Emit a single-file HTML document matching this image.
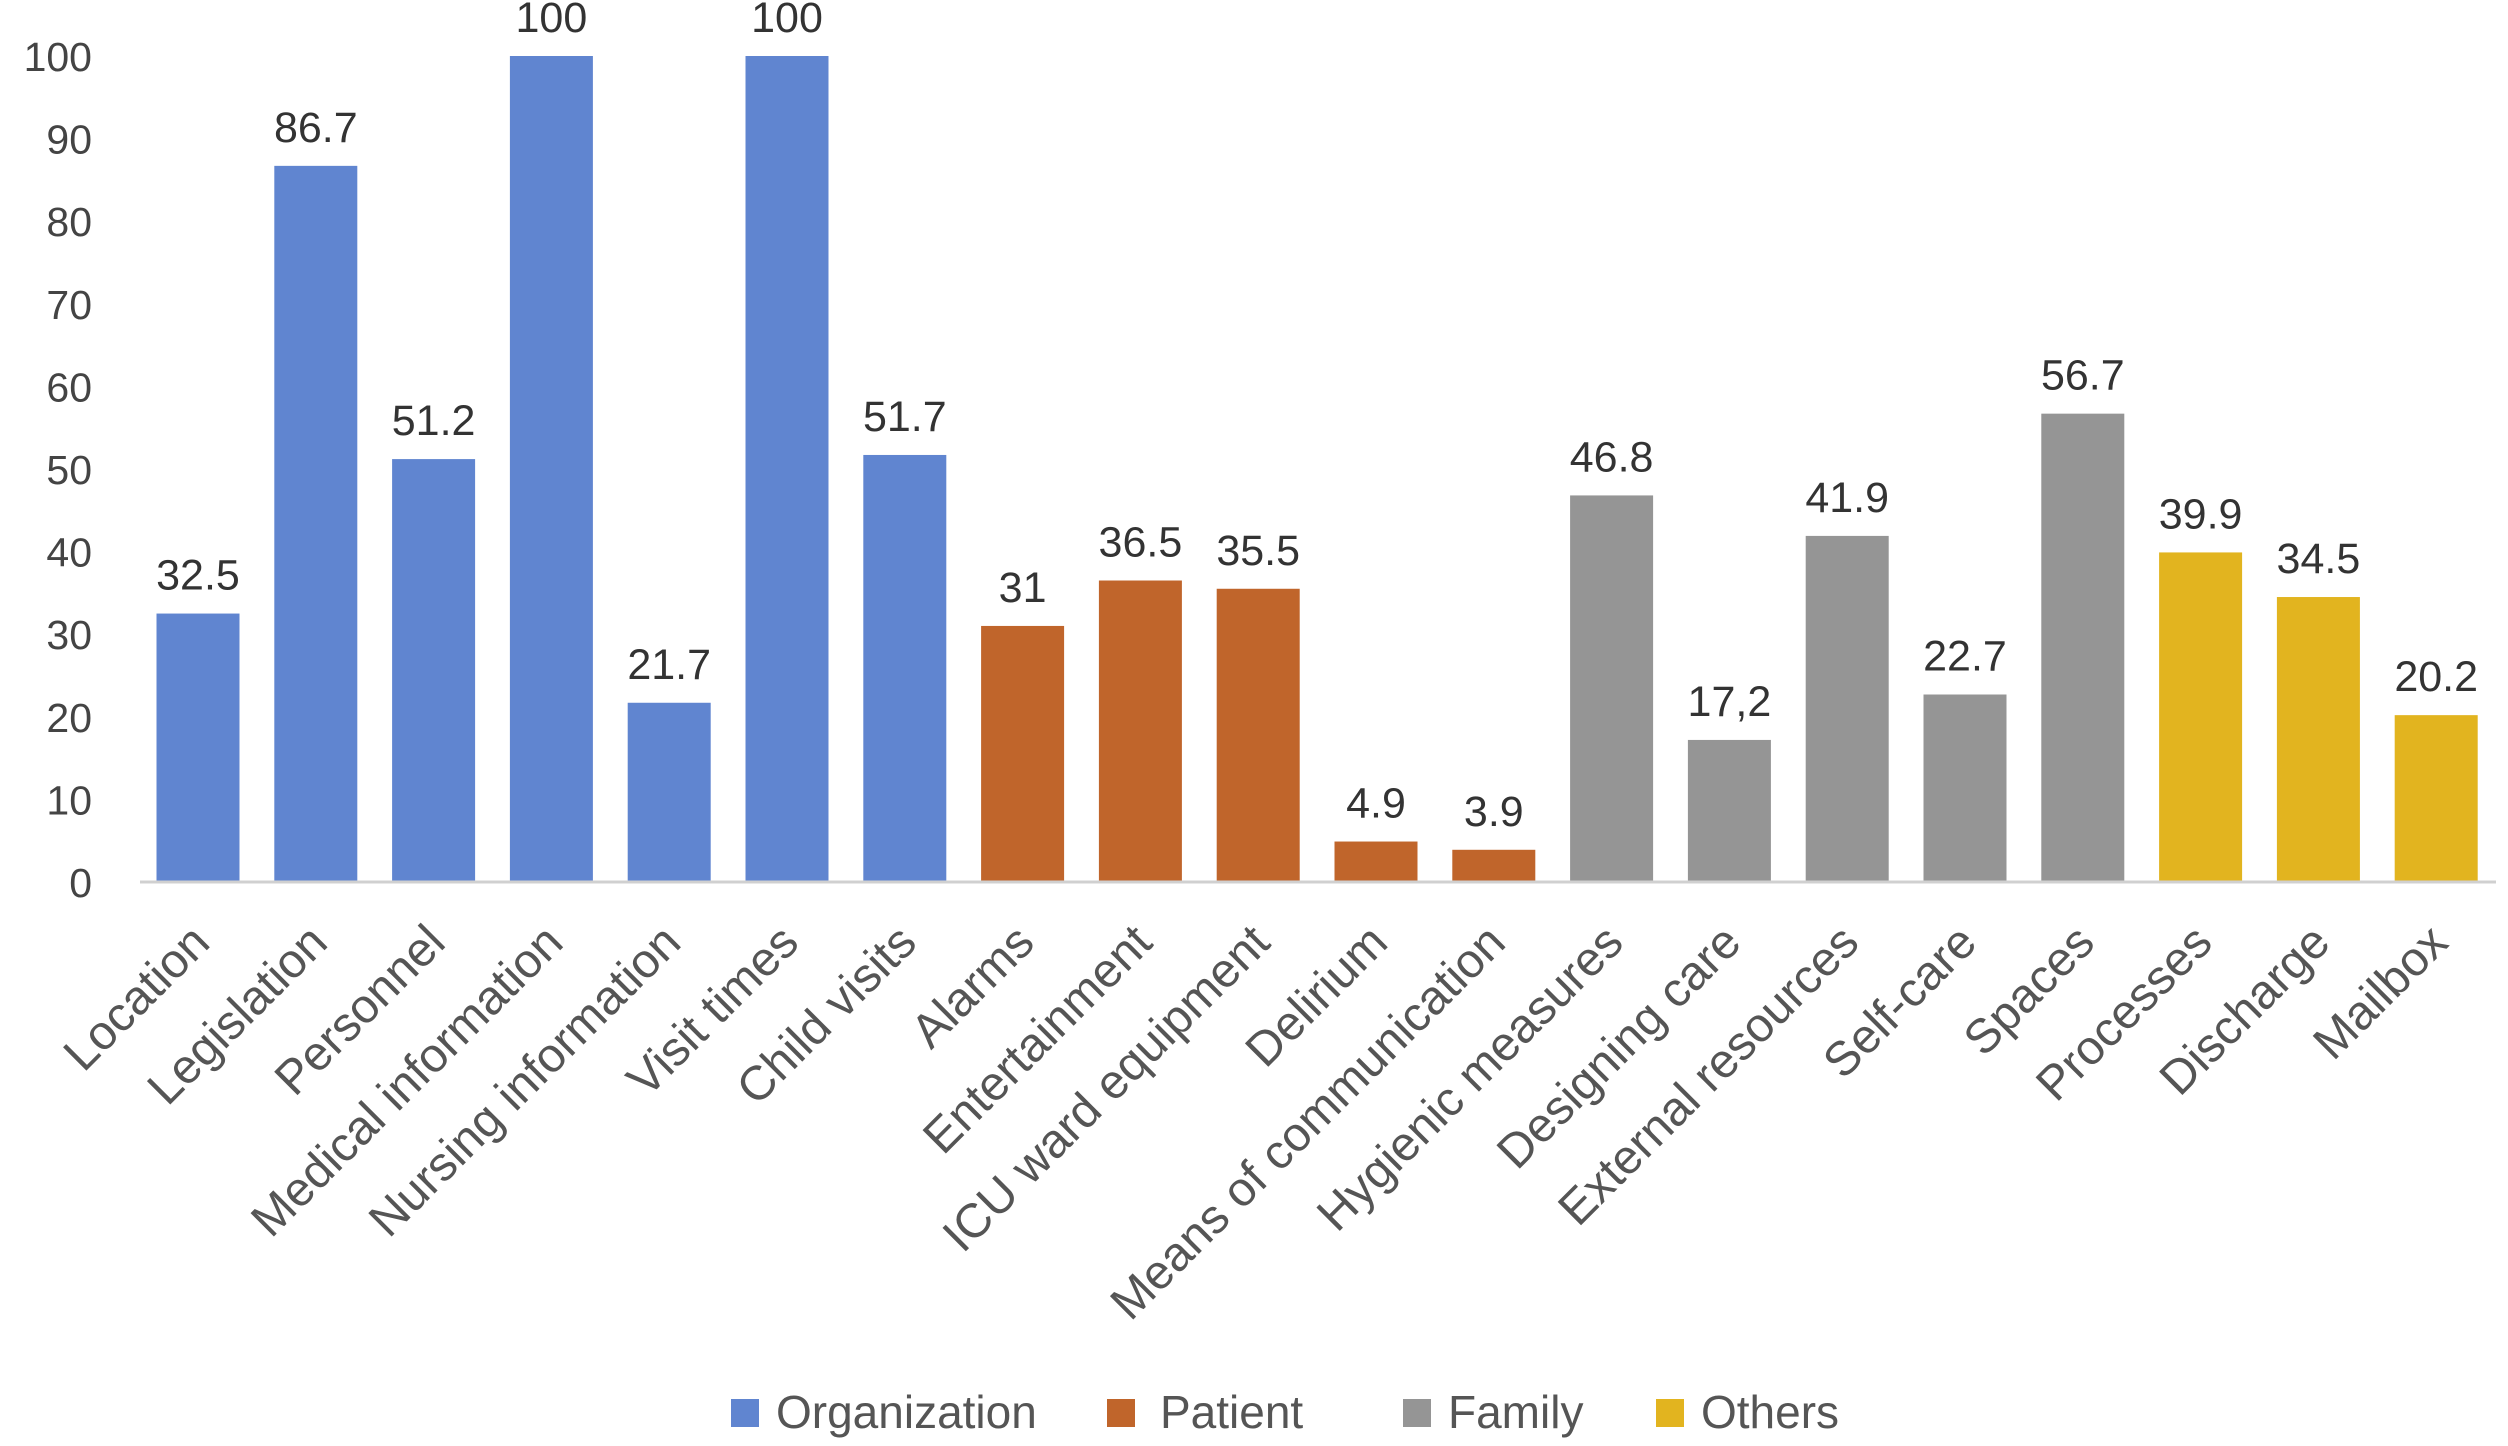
<!DOCTYPE html>
<html><head><meta charset="utf-8"><style>
html,body{margin:0;padding:0;background:#fff;}
svg{display:block;font-family:"Liberation Sans",Arial,sans-serif;}
</style></head><body>
<svg id="chart" width="2508" height="1446" viewBox="0 0 2508 1446" xmlns="http://www.w3.org/2000/svg">
<g id="yticks"></g>
<g id="bars"></g>
<g id="xlabels"></g>
<line x1="140" y1="882" x2="2496" y2="882" stroke="#d0d0d0" stroke-width="3"/>
<g font-size="46" fill="#555">
 <g><rect x="731" y="1399" width="28" height="28" fill="#6085d0"/><text x="776" y="1428">Organization</text></g>
 <g><rect x="1107" y="1399" width="28" height="28" fill="#c0652b"/><text x="1160" y="1428">Patient</text></g>
 <g><rect x="1403" y="1399" width="28" height="28" fill="#959595"/><text x="1448" y="1428">Family</text></g>
 <g><rect x="1656" y="1399" width="28" height="28" fill="#e2b41f"/><text x="1701" y="1428">Others</text></g>
</g>
</svg>
<script>
const categories = ["Location","Legislation","Personnel","Medical information","Nursing information","Visit times","Child visits","Alarms","Entertainment","ICU ward equipment","Delirium","Means of communication","Hygienic measures","Designing care","External resources","Self-care","Spaces","Processes","Discharge","Mailbox"];
const values = [32.5,86.7,51.2,100,21.7,100,51.7,31,36.5,35.5,4.9,3.9,46.8,17.2,41.9,22.7,56.7,39.9,34.5,20.2];
const valueLabels = ["32.5","86.7","51.2","100","21.7","100","51.7","31","36.5","35.5","4.9","3.9","46.8","17,2","41.9","22.7","56.7","39.9","34.5","20.2"];
const groups = ["org","org","org","org","org","org","org","pat","pat","pat","pat","pat","fam","fam","fam","fam","fam","oth","oth","oth"];
const yTicks = [0,10,20,30,40,50,60,70,80,90,100];
const colors = {org:"#6085d0",pat:"#c0652b",fam:"#959595",oth:"#e2b41f"};
const NS="http://www.w3.org/2000/svg";
const y0=882, y100=56;
function yScale(v){return y0-(y0-y100)*v/100;}
function xScale(i){return 198+i*117.8;}
const bw=83;
const yt=document.getElementById('yticks');
yTicks.forEach(t=>{
 const tx=document.createElementNS(NS,'text');
 
 
 tx.setAttribute('x',92);tx.setAttribute('y',yScale(t)+15);
 tx.setAttribute('text-anchor','end');tx.setAttribute('font-size','41');tx.setAttribute('fill','#444');
 tx.textContent=t;yt.appendChild(tx);
});
const bg=document.getElementById('bars'), xl=document.getElementById('xlabels');
categories.forEach((c,i)=>{
 const cx=xScale(i), top=yScale(values[i]);
 const r=document.createElementNS(NS,'rect');
 
 
 r.setAttribute('x',cx-bw/2);r.setAttribute('y',top);r.setAttribute('width',bw);r.setAttribute('height',y0-top);
 r.setAttribute('fill',colors[groups[i]]);bg.appendChild(r);
 const v=document.createElementNS(NS,'text');
 
 
 v.setAttribute('x',cx);v.setAttribute('y',top-24);v.setAttribute('text-anchor','middle');
 v.setAttribute('font-size','43');v.setAttribute('fill','#333');v.textContent=valueLabels[i];bg.appendChild(v);
 const l=document.createElementNS(NS,'text');
 
 
 const lx=cx+14, ly=945;
 l.setAttribute('x',lx);l.setAttribute('y',ly);l.setAttribute('text-anchor','end');
 l.setAttribute('font-size','48');l.setAttribute('fill','#555');
 l.setAttribute('transform','rotate(-45 '+lx+' '+ly+')');
 l.textContent=c;xl.appendChild(l);
});
</script>
</body></html>
